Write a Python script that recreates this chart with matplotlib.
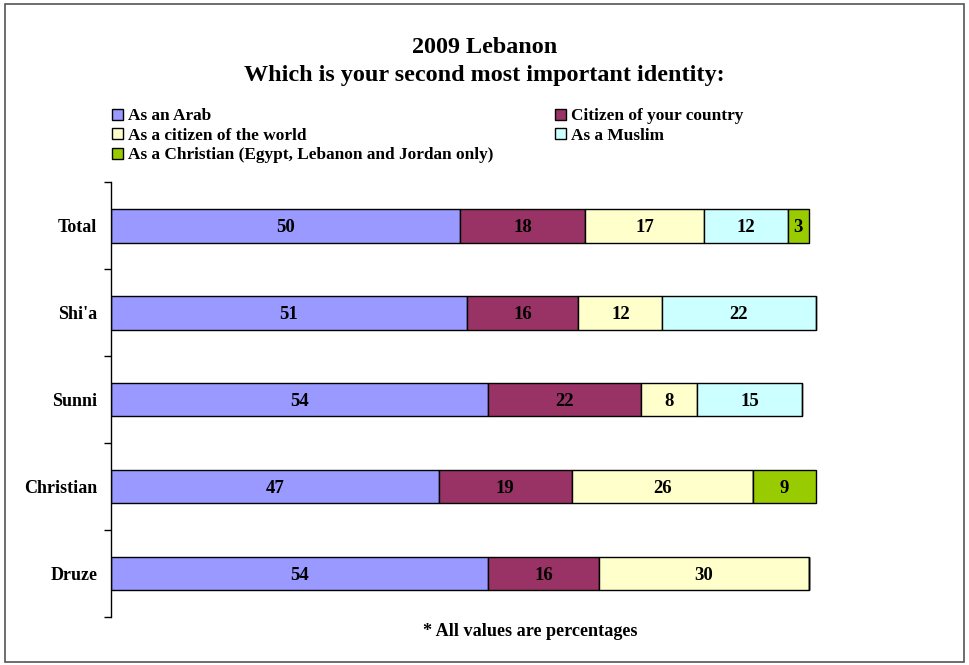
import matplotlib.pyplot as plt
from matplotlib.patches import Rectangle

# survey results, percent per group
groups = ['Total', "Shi'a", 'Sunni', 'Christian', 'Druze']
series = ['As an Arab', 'Citizen of your country', 'As a citizen of the world',
          'As a Muslim', 'As a Christian (Egypt, Lebanon and Jordan only)']
arab = [50, 51, 54, 47, 54]
citizen = [18, 16, 22, 19, 16]
world = [17, 12, 8, 26, 30]
muslim = [12, 22, 15, 0, 0]
christian = [3, 0, 0, 9, 0]
colors = ['#9999FF', '#993366', '#FFFFCC', '#CCFFFF', '#99CC00']

serif = 'Liberation Serif'

fig = plt.figure(figsize=(9.69, 6.65), dpi=100)
ax = fig.add_axes([0.1146, 0.0722, 0.864, 0.654])

ypos = list(range(len(groups)))
left = [0] * len(groups)
bars = {}
for name, vals, c in zip(series, [arab, citizen, world, muslim, christian], colors):
    b = ax.barh(ypos, vals, left=left, height=0.39, color=c, edgecolor='black',
                linewidth=1, label=name)
    bars[name] = b
    for y, v, l in zip(ypos, vals, left):
        if v > 0:
            ax.text(l + v / 2, y, str(v), ha='center', va='center_baseline',
                    fontsize=13.5, fontweight='bold', family=serif, color='black')
    left = [l + v for l, v in zip(left, vals)]

ax.set_xlim(0, 120)
ax.set_ylim(4.5, -0.5)
ax.set_yticks(ypos)
ax.set_yticklabels(groups, fontsize=13, fontweight='bold', family=serif)
ax.tick_params(axis='y', which='major', length=0, pad=10)
ax.set_yticks([i - 0.5 for i in range(len(groups) + 1)], minor=True)
ax.tick_params(axis='y', which='minor', length=5, width=1, direction='out')
ax.set_xticks([])
for s in ['top', 'right', 'bottom']:
    ax.spines[s].set_visible(False)
ax.spines['left'].set_linewidth(1)

# title
fig.text(0.5, 0.929, '2009 Lebanon', ha='center', va='center',
         fontsize=17.4, fontweight='bold', family=serif)
fig.text(0.5, 0.887, 'Which is your second most important identity:', ha='center',
         va='center', fontsize=17.4, fontweight='bold', family=serif)

# legend, filled column by column
order = [0, 2, 4, 1, 3]
handles = [bars[series[i]] for i in order]
labels = [series[i] for i in order]
fig.legend(handles, labels, loc='upper left', bbox_to_anchor=(0.107, 0.85), ncol=2,
           frameon=False, handlelength=0.6, handleheight=0.6, handletextpad=0.3,
           columnspacing=3.6, labelspacing=0.2, borderpad=0,
           prop={'family': serif, 'weight': 'bold', 'size': 12.4})

fig.text(0.547, 0.051, '* All values are percentages', ha='center', va='center',
         fontsize=13.1, fontweight='bold', family=serif)

# outer frame
fig.patches.append(Rectangle((0.005, 0.004), 0.99, 0.99, transform=fig.transFigure,
                             fill=False, edgecolor='#555555', linewidth=1.2))

fig.savefig('out.png', dpi=100)
